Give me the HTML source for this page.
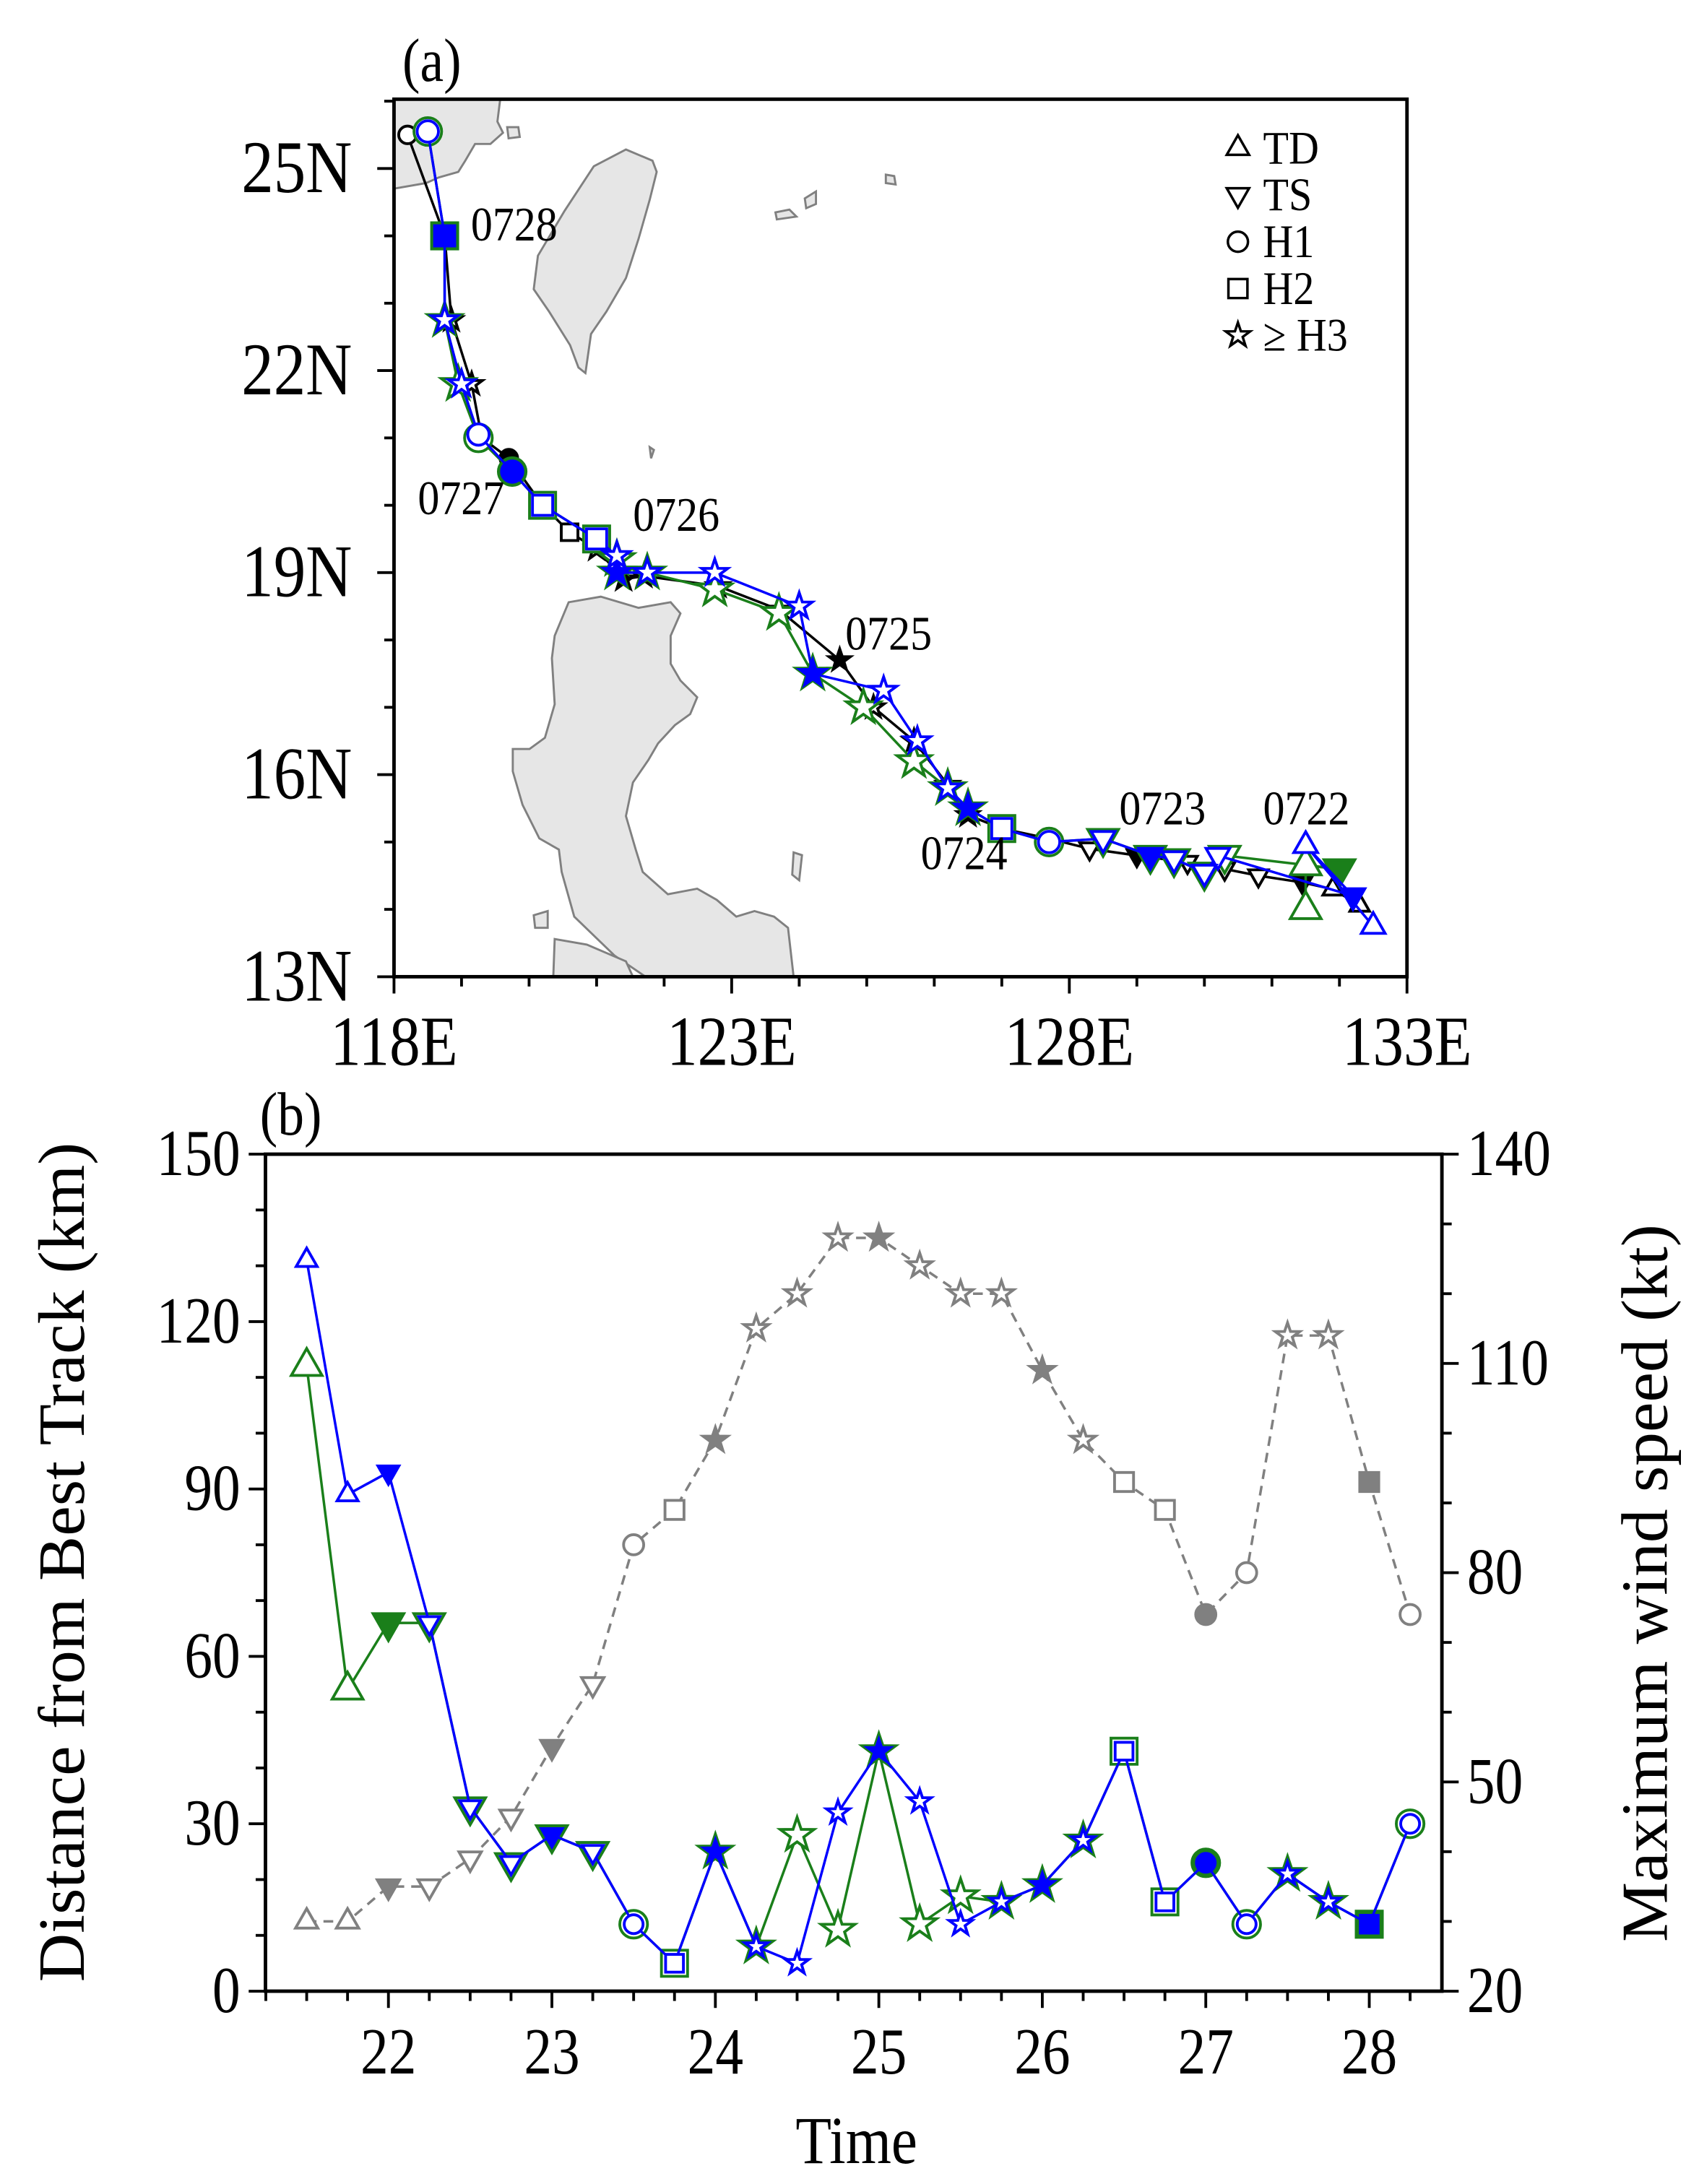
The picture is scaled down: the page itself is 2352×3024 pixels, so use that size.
<!DOCTYPE html>
<html><head><meta charset="utf-8">
<style>
html,body{margin:0;padding:0;background:#fff;}
svg{display:block;}
text{font-family:"Liberation Serif",serif;fill:#000;}
</style></head>
<body>
<svg id="fig" xmlns="http://www.w3.org/2000/svg" width="2352" height="3024" viewBox="0 0 1216 1563" preserveAspectRatio="none">
<defs><clipPath id="clipA"><rect x="282" y="71" width="725" height="628"/></clipPath></defs>
<rect x="0" y="0" width="1216" height="1563" fill="#fff"/>
<g id="panelA">
  <g clip-path="url(#clipA)" fill="#e6e6e6" stroke="#808080" stroke-width="1.5">
    <path d="M282,71 L358,71 L356,87 L360,95 L351,103 L340,103 L333,115 L328,123 L314,127 L305,131 L282,135 Z"/>
    <path d="M363,91 L371,91 L372,98 L364,99 Z"/>
    <path d="M448,107 L467,115 L470,123 L465,143 L457,171 L448,199 L434,223 L423,239 L419,267 L414,263 L408,247 L393,223 L382,207 L385,183 L404,151 L425,119 Z"/>
    <path d="M407,431 L430,427 L457,435 L480,431 L487,439 L480,455 L480,475 L487,487 L499,499 L494,511 L483,519 L471,532 L464,544 L453,560 L448,584 L455,608 L460,624 L478,640 L499,636 L513,644 L527,656 L540,652 L554,656 L564,664 L568,699 L462,699 L440,684 L411,656 L402,624 L400,608 L386,600 L374,576 L367,552 L367,536 L379,536 L390,528 L397,504 L395,471 L397,455 Z"/>
    <path d="M397,672 L420,676 L448,688 L453,699 L396,699 Z"/>
    <path d="M382,655 L392,652 L392,664 L383,664 Z"/>
    <path d="M555,152 L565,150 L570,155 L556,157 Z"/>
    <path d="M576,142 L584,137 L584,146 L577,149 Z"/>
    <path d="M634,125 L640,126 L641,132 L634,131 Z"/>
    <path d="M465,320 L468,322 L466,328 Z"/>
    <path d="M568,610 L574,612 L572,630 L567,626 Z"/>
  </g>
  <g id="tracks" clip-path="url(#clipA)"></g>
  <rect x="282" y="71" width="725" height="628" fill="none" stroke="#000" stroke-width="2.5"/>
  <g id="axesA"></g>
  <g id="legendA"></g>
  <text transform="translate(288,58) scale(1,1.15)" font-size="38">(a)</text>
</g>
<g id="panelB">
  <g id="seriesB"></g>
  <rect x="190" y="826" width="842" height="599" fill="none" stroke="#000" stroke-width="2.5"/>
  <g id="axesB"></g>
  <text transform="translate(186,812) scale(1,1.15)" font-size="38">(b)</text>
  <text font-size="42" text-anchor="middle" transform="translate(613,1548) scale(1,1.15)">Time</text>
  <text x="0" y="0" font-size="42" text-anchor="middle" transform="translate(60,1118) rotate(-90) scale(1.15,1.12)">Distance from Best Track (km)</text>
  <text x="0" y="0" font-size="42" text-anchor="middle" transform="translate(1193,1133) rotate(-90) scale(1.15,1.12)">Maximum wind speed (kt)</text>
</g>
</svg>
<script>
// ---------- data ----------
const cats = ['TD','TD','TS','TS','TS','TS','TS','TS','H1','H2','H3','H3','H3','H3','H3','H3','H3','H3','H3','H3','H2','H2','H1','H1','H3','H3','H2','H1'];
const filledIdx = [2,6,10,14,18,22,26];
const times = [21.5,21.75,22,22.25,22.5,22.75,23,23.25,23.5,23.75,24,24.25,24.5,24.75,25,25.25,25.5,25.75,26,26.25,26.5,26.75,27,27.25,27.5,27.75,28,28.25];
const windKt = [30,30,35,35,39,45,55,64,84,89,99,115,120,128,128,124,120,120,109,99,93,89,74,80,114,114,93,74];
const distBlue = [131,89,93,66,33,23,28,25,12,5,25,8,5,32,43,34,12,16,19,27,43,16,23,12,21,16,12,30];
const distGreen = [112,54,66,66,33,23,28,25,12,5,25,8,28,11,43,12,17,16,19,27,43,16,23,12,21,16,12,30];
const bestLon = [132.3,131.9,131.45,130.8,130.3,129.75,129.0,128.3,127.7,127.0,126.5,126.2,125.7,125.1,124.6,123.7,122.8,121.7,121.4,121.0,120.6,120.2,119.7,119.3,119.15,118.85,118.75,118.2];
const bestLat = [14.06,14.3,14.4,14.5,14.6,14.7,14.8,14.9,15.05,15.2,15.4,15.85,16.5,17.0,17.7,18.45,18.8,18.95,18.9,19.35,19.6,20.0,20.7,21.0,21.8,22.75,24.0,25.5];
const blueLon = [132.5,131.5,132.2,130.2,130.0,129.55,129.2,128.5,127.7,127.0,126.5,126.2,125.75,125.25,124.2,124.0,122.75,121.75,121.3,121.3,121.0,120.2,119.75,119.25,119.0,118.75,118.75,118.5];
const blueLat = [13.75,14.95,14.2,14.8,14.55,14.75,14.8,15.05,15.0,15.2,15.5,15.8,16.5,17.25,17.5,18.5,19.0,19.0,19.0,19.25,19.5,20.0,20.5,21.05,21.8,22.75,24.0,25.55];
const greenLon = [131.5,131.5,132.0,130.3,130.0,129.55,129.2,128.5,127.7,127.0,126.5,126.2,125.7,124.95,124.2,123.7,122.75,121.75,121.3,121.3,121.0,120.2,119.75,119.25,118.95,118.75,118.75,118.5];
const greenLat = [14.0,14.65,14.6,14.8,14.55,14.75,14.8,15.05,15.0,15.2,15.5,15.8,16.2,17.0,17.5,18.4,18.75,19.0,19.0,19.2,19.5,20.0,20.5,21.0,21.8,22.75,24.0,25.55];
const dateLabels = ['0722','0723','0724','0725','0726','0727','0728'];
const lonTicks = [118,123,128,133];
const latTicks = [13,16,19,22,25];
const distTicks = [0,30,60,90,120,150];
const windTicks = [20,50,80,110,140];
const dayTicks = [22,23,24,25,26,27,28];

// ---------- scales ----------
const NS='http://www.w3.org/2000/svg';
const lonX = v => 282 + (v-118)*(725/15);
const latY = v => 699 - (v-13)*(48.2);
const tX = v => 278 + (v-22)*117;
const dY = v => 1425 - v*(599/150);
const wY = v => 1425 - (v-20)*(599/120);
function mk(tag, attrs, parent){const e=document.createElementNS(NS,tag);for(const k in attrs)e.setAttribute(k,attrs[k]);parent.appendChild(e);return e;}
function txt(parent,x,y,size,anchor,sy,str){const e=mk('text',{transform:`translate(${x},${y}) scale(1,${sy})`,'font-size':size,'text-anchor':anchor},parent);e.textContent=str;return e;}
function shapePath(cat,x,y,r){
  if(cat==='TD'){return `M${x},${y-r*1.15} L${x+r},${y+r*0.6} L${x-r},${y+r*0.6} Z`;}
  if(cat==='TS'){return `M${x},${y+r*1.15} L${x+r},${y-r*0.6} L${x-r},${y-r*0.6} Z`;}
  if(cat==='H2'){const s=r*0.85;return `M${x-s},${y-s} L${x+s},${y-s} L${x+s},${y+s} L${x-s},${y+s} Z`;}
  if(cat==='H1'){return `M${x-r*0.9},${y} A${r*0.9},${r*0.9} 0 1 0 ${x+r*0.9},${y} A${r*0.9},${r*0.9} 0 1 0 ${x-r*0.9},${y} Z`;}
  let d='';for(let i=0;i<10;i++){const a=-Math.PI/2+i*Math.PI/5;const rr=i%2?r*0.45:r*1.15;d+=(i?'L':'M')+(x+rr*Math.cos(a)).toFixed(2)+','+(y+rr*Math.sin(a)).toFixed(2);}return d+'Z';
}
function marker(parent,cat,x,y,r,color,filled,sw){
  const p=mk('path',{d:shapePath(cat,x,y,r),fill:filled?color:'#fff',stroke:color,'stroke-width':sw},parent);
  
  
  return p;
}
function series(parent,xs,ys,color,r,sw,dash,name){
  const g=mk('g',{},parent);
  
  
  const pts=xs.map((x,i)=>x.toFixed(2)+','+ys[i].toFixed(2)).join(' ');
  const l=mk('polyline',{points:pts,fill:'none',stroke:color,'stroke-width':sw},g);
  if(dash)l.setAttribute('stroke-dasharray',dash);
  
  
  xs.forEach((x,i)=>marker(g,cats[i],x,ys[i],r,color,filledIdx.includes(i),2));
}

// ---------- panel a ----------
const tr=document.getElementById('tracks');
series(tr,bestLon.map(lonX),bestLat.map(latY),'#000',7,1.8,null,'best-track');
series(tr,greenLon.map(lonX),greenLat.map(latY),'#1a7f1a',11,1.8,null,'green-track');
series(tr,blueLon.map(lonX),blueLat.map(latY),'#0000ff',8.5,1.8,null,'blue-track');
const labelPos=[[935,590],[832,590],[690,622],[636,465],[484,380],[330,368],[368,172]];
const pA=document.getElementById('panelA');
dateLabels.forEach((t,i)=>{const e=txt(pA,labelPos[i][0],labelPos[i][1],31,'middle',1.12,t);

});
const axA=document.getElementById('axesA');


for(let v=118;v<=133;v++){const x=lonX(v);const maj=lonTicks.includes(v);mk('line',{x1:x,x2:x,y1:699,y2:699+(maj?12:7),stroke:'#000','stroke-width':2},axA);}
for(let v=13;v<=26;v++){const y=latY(v);const maj=latTicks.includes(v);mk('line',{x1:282,x2:282-(maj?12:7),y1:y,y2:y,stroke:'#000','stroke-width':2},axA);}
lonTicks.forEach(v=>{const e=txt(axA,lonX(v),762,44,'middle',1.15,v+'E');

});
latTicks.forEach(v=>{const e=txt(axA,252,latY(v)+17,46,'end',1.15,v+'N');

});
const lg=document.getElementById('legendA');
[['TD','TD'],['TS','TS'],['H1','H1'],['H2','H2'],['H3','≥ H3']].forEach((c,i)=>{const y=106+i*33.5;
const g=mk('g',{},lg);


marker(g,c[0],886,y,8,'#000',false,1.8);
txt(g,904,y+11,30,'start',1.12,c[1]);});

// ---------- panel b ----------
const sb=document.getElementById('seriesB');
series(sb,times.map(tX),windKt.map(wY),'#808080',8,1.8,'7,5','wind-speed-series');
series(sb,times.map(tX),distGreen.map(dY),'#1a7f1a',11,1.8,null,'green-distance-series');
series(sb,times.map(tX),distBlue.map(dY),'#0000ff',7.5,1.8,null,'blue-distance-series');
const axB=document.getElementById('axesB');


for(let v=0;v<=150;v+=10){const y=dY(v);const maj=distTicks.includes(v);mk('line',{x1:190,x2:190-(maj?12:7),y1:y,y2:y,stroke:'#000','stroke-width':2},axB);}
for(let v=20;v<=140;v+=10){const y=wY(v);const maj=windTicks.includes(v);mk('line',{x1:1032,x2:1032+(maj?12:7),y1:y,y2:y,stroke:'#000','stroke-width':2},axB);}
for(let v=21.25;v<=28.45;v+=0.25){const x=tX(v);const maj=Math.abs(v-Math.round(v))<0.01;mk('line',{x1:x,x2:x,y1:1425,y2:1425+(maj?12:7),stroke:'#000','stroke-width':2},axB);}
distTicks.forEach(v=>{const e=txt(axB,172,dY(v)+15,40,'end',1.18,String(v));

});
windTicks.forEach(v=>{const e=txt(axB,1050,wY(v)+15,40,'start',1.18,String(v));

});
dayTicks.forEach(v=>{const e=txt(axB,tX(v),1484,40,'middle',1.18,String(v));

});
</script>
</body></html>
